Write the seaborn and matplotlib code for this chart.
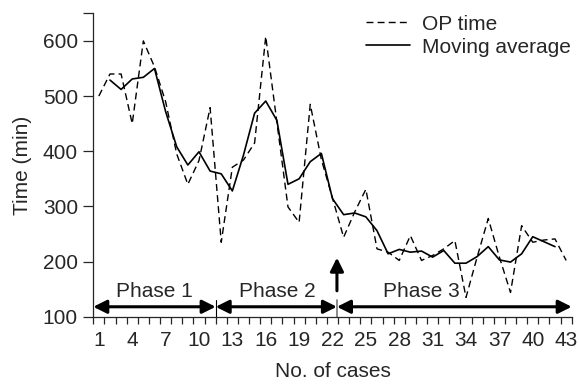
import numpy as np
import pandas as pd
import matplotlib
matplotlib.use("Agg")
import matplotlib.pyplot as plt
import seaborn as sns

# data
cases = list(range(1, 44))
op_time = [500, 540, 540, 450, 600, 553, 490, 395, 340, 383,
           479, 235, 371, 384, 415, 608, 453, 299, 271, 485,
           385, 315, 244, 290, 331, 223, 217, 202, 247, 202,
           211, 223, 238, 135, 208, 278, 208, 144, 265, 235,
           239, 241, 202]
# moving average is drawn for cases 2..42 only
moving_avg = [np.nan,
              529, 512, 531, 534, 550, 472, 408, 375, 399, 364,
              359, 328, 393, 469, 491, 456, 340, 350, 381, 396,
              314, 285, 288, 281, 256, 214, 222, 217, 219, 208,
              220, 197, 197, 209, 227, 203, 199, 214, 245, 236,
              227,
              np.nan]
phase_names = ["Phase 1", "Phase 2", "Phase 3"]
phase_bounds = [0.5, 11.5, 22.4, 43.5]
phase_label_x = [6, 17, 30]

df = pd.DataFrame({"case": cases, "OP time": op_time, "Moving average": moving_avg})

sns.set_style("ticks")
plt.rcParams["font.family"] = ["Liberation Sans", "DejaVu Sans"]
plt.rcParams["font.size"] = 15

fig = plt.figure(figsize=(5.79, 3.85), dpi=100)
ax = fig.add_axes([0.1611, 0.1774, 0.8263, 0.788])

sns.lineplot(data=df, x="case", y="OP time", ax=ax, color="black", lw=1.0,
             linestyle=(0, (5, 3)), label="OP time", clip_on=False)
sns.lineplot(data=df, x="case", y="Moving average", ax=ax, color="black", lw=1.2,
             label="Moving average", clip_on=False)

ax.set_xlim(0.5, 43.5)
ax.set_ylim(100, 650)
ax.set_xticks(cases[::3])
ax.set_xticks(np.arange(0.5, 44, 1), minor=True)
ax.set_yticks([100, 200, 300, 400, 500, 600, 650])
ax.set_yticklabels(["100", "200", "300", "400", "500", "600", ""])
ax.tick_params(axis="x", which="major", length=0, pad=10, labelsize=15)
ax.tick_params(axis="x", which="minor", length=5, width=0.9, direction="out")
ax.tick_params(axis="y", length=7, width=0.9, pad=4, labelsize=15)
for s in ["left", "bottom"]:
    ax.spines[s].set_linewidth(0.9)
sns.despine(ax=ax)

ax.set_xlabel("No. of cases", fontsize=15, labelpad=9)
ax.set_ylabel("Time (min)", fontsize=15, labelpad=8)

# phase arrows
arrow_y = 118
for i, name in enumerate(phase_names):
    ax.annotate("", xy=(phase_bounds[i + 1], arrow_y), xytext=(phase_bounds[i], arrow_y),
                arrowprops=dict(arrowstyle="<|-|>", color="black", lw=2.2,
                                mutation_scale=20, shrinkA=0, shrinkB=0),
                annotation_clip=False)
    ax.text(phase_label_x[i], 146, name, ha="center", va="center", fontsize=15)

ax.plot([phase_bounds[1]] * 2, [100, 131], color="black", lw=0.8)
ax.plot([phase_bounds[2]] * 2, [100, 131], color="#777777", lw=1.2)

# marker arrow at the start of phase 3
ax.annotate("", xy=(phase_bounds[2], 207), xytext=(phase_bounds[2], 147),
            arrowprops=dict(arrowstyle="-|>", color="black", lw=2.2,
                            mutation_scale=20, shrinkA=0, shrinkB=0))

ax.legend(loc="upper left", bbox_to_anchor=(0.607, 1.0), bbox_transform=fig.transFigure,
          frameon=False, fontsize=15, handlelength=2.1, handletextpad=0.6,
          labelspacing=0.2, borderpad=0.2)

fig.savefig("out.png", dpi=100)
